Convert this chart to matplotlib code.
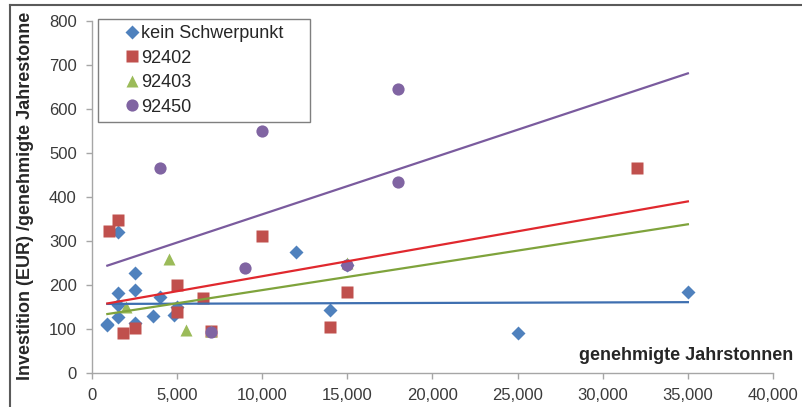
import numpy as np
import matplotlib
matplotlib.use('Agg')
import matplotlib.pyplot as plt
from matplotlib.lines import Line2D
from matplotlib.ticker import FuncFormatter

plt.rcParams['font.family'] = ['Liberation Sans', 'DejaVu Sans']

# kein Schwerpunkt
blue_x = [900, 1500, 1500, 1500, 1500, 900, 2500, 2500, 2500, 3600, 4000, 4800, 5000,
          12000, 14000, 15000, 25000, 35000]
blue_y = [110, 320, 182, 155, 128, 112, 228, 188, 114, 130, 173, 132, 150,
          276, 143, 246, 91, 185]
# 92402
red_x = [1000, 1500, 1800, 2500, 5000, 5000, 6500, 7000, 10000, 14000, 15000, 32000]
red_y = [323, 347, 91, 102, 200, 138, 170, 95, 312, 105, 185, 467]
# 92403
green_x = [2000, 4500, 5500, 7000, 15000]
green_y = [150, 258, 98, 95, 250]
# 92450
purple_x = [4000, 7000, 9000, 10000, 15000, 18000, 18000]
purple_y = [467, 94, 239, 550, 246, 646, 435]

trend_x = [900, 35000]
trend_blue = [157, 161]
trend_red = [158, 390]
trend_green = [134, 338]
trend_purple = [244, 681]

c_blue = '#4F81BD'
c_red = '#C0504D'
c_green = '#9BBB59'
c_purple = '#8064A2'

fig = plt.figure(figsize=(8.03, 4.07), dpi=100)
ax = fig.add_axes([92/803, 1-373/407, 681/803, 352/407])

ax.plot(blue_x, blue_y, 'D', ms=7, color=c_blue, mec='none', label='kein Schwerpunkt', zorder=3)
ax.plot(red_x, red_y, 's', ms=8.6, color=c_red, mec='none', label='92402', zorder=3)
ax.plot(green_x, green_y, '^', ms=9.2, color=c_green, mec='none', label='92403', zorder=3)
ax.plot(purple_x, purple_y, 'o', ms=8.8, color=c_purple, mec='none', label='92450', zorder=3)

ax.plot(trend_x, trend_blue, color='#3E6FB0', lw=1.6, zorder=4)
ax.plot(trend_x, trend_red, color='#E0282E', lw=1.6, zorder=4)
ax.plot(trend_x, trend_green, color='#7FA33C', lw=1.6, zorder=4)
ax.plot(trend_x, trend_purple, color='#7A5B9E', lw=1.6, zorder=4)

ax.set_xlim(0, 40000)
ax.set_ylim(0, 800)
ax.set_xticks(np.arange(0, 40001, 5000))
ax.set_yticks(np.arange(0, 801, 100))
ax.xaxis.set_major_formatter(FuncFormatter(lambda v, p: format(int(v), ',')))

for s in ['top', 'right']:
    ax.spines[s].set_visible(False)
for s in ['left', 'bottom']:
    ax.spines[s].set_color('#A6A6A6')
    ax.spines[s].set_linewidth(1.0)
ax.tick_params(direction='out', length=4, width=1, color='#A6A6A6',
               labelsize=12, labelcolor='#3A3A3A', pad=7)

leg = ax.legend(loc='upper left', bbox_to_anchor=(98/803, 1-19/407, 212/803, 0.0),
                bbox_transform=fig.transFigure, mode='expand', borderaxespad=0,
                fontsize=13, handlelength=3.08, handletextpad=-1.04, borderpad=0.35,
                labelspacing=0.41, fancybox=False, framealpha=1, numpoints=1)
leg.get_frame().set_edgecolor('#7F7F7F')
leg.get_frame().set_linewidth(1.0)
for t in leg.get_texts():
    t.set_color('#262626')

fig.text(26/803, 1-196/407, 'Investition (EUR) /genehmigte Jahrestonne', rotation=90,
         ha='center', va='center', fontsize=13, fontweight='bold', color='#262626')
fig.text(793/803, 1-355/407, 'genehmigte Jahrstonnen', ha='right', va='center',
         fontsize=13, fontweight='bold', color='#262626')

# Rahmen oben und links
fig.add_artist(Line2D([10/803, 10/803], [0, 1-5/407], transform=fig.transFigure,
                      color='#5A5A5A', lw=1.5))
fig.add_artist(Line2D([10/803, 1], [1-5/407, 1-5/407], transform=fig.transFigure,
                      color='#5A5A5A', lw=1.5))

fig.savefig('out.png', dpi=100)
